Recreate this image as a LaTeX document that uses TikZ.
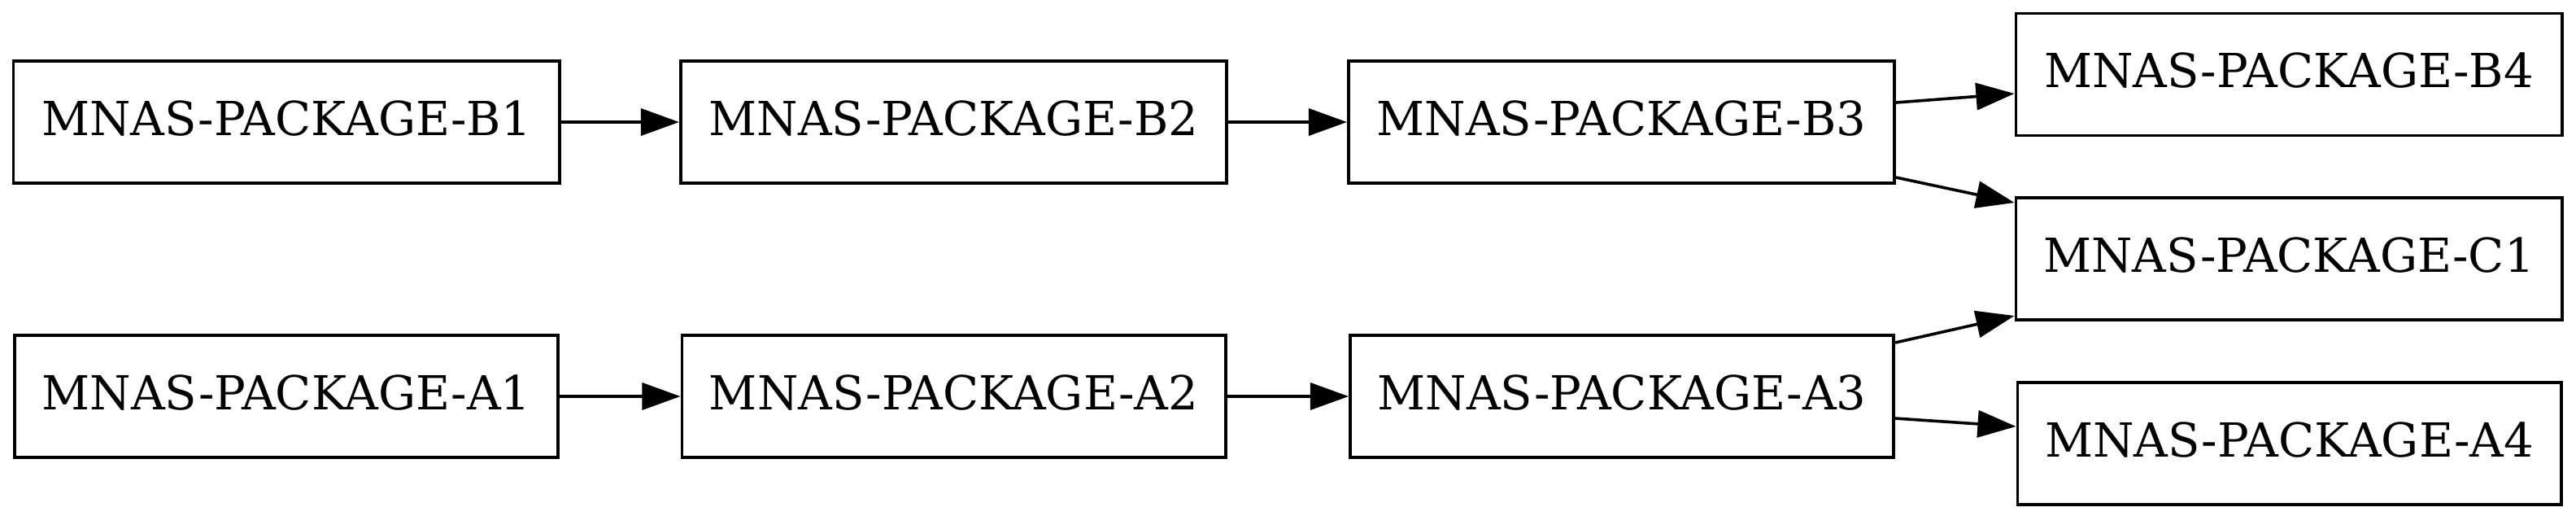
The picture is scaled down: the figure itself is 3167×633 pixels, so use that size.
\documentclass[tikz,border=0pt]{standalone}
\usepackage{fontspec}
\setmainfont{DejaVu Serif}
\usetikzlibrary{arrows.meta,calc}
\begin{document}
\begin{tikzpicture}[x=0.01cm,y=-0.01cm,
  pkg/.style={draw=black,line width=0.036cm,rectangle,inner sep=0pt,
    minimum height=1.5cm,font=\fontsize{16.4pt}{19pt}\selectfont,text depth=0.1cm},
  wideB/.style={pkg,minimum width=6.71cm},
  wideA/.style={pkg,minimum width=6.68cm},
  dep/.style={line width=0.036cm,-{Triangle[length=13.4pt,width=9.4pt]}}]
\useasboundingbox (0,0) rectangle (3167,633);
\node[wideB] (B1) at (352,150) {MNAS-PACKAGE-B1};
\node[wideB] (B2) at (1172.5,150) {MNAS-PACKAGE-B2};
\node[wideB] (B3) at (1993.5,150) {MNAS-PACKAGE-B3};
\node[wideB] (B4) at (2814,91.5) {MNAS-PACKAGE-B4};
\node[wideB] (C1) at (2814,318) {MNAS-PACKAGE-C1};
\node[wideA] (A1) at (352,487) {MNAS-PACKAGE-A1};
\node[wideA] (A2) at (1172.5,487) {MNAS-PACKAGE-A2};
\node[wideA] (A3) at (1994,487) {MNAS-PACKAGE-A3};
\node[wideA] (A4) at (2814.5,545) {MNAS-PACKAGE-A4};
\draw[dep] (B1) -- (B2);
\draw[dep] (B2) -- (B3);
\draw[dep] (A1) -- (A2);
\draw[dep] (A2) -- (A3);
\draw[dep] ($(B3.east)+(0,-24)$) -- ($(B4.west)+(0,23.5)$);
\draw[dep] ($(B3.east)+(0,68)$) -- ($(C1.west)+(0,-69)$);
\draw[dep] ($(A3.east)+(0,-66)$) -- ($(C1.west)+(0,70)$);
\draw[dep] ($(A3.east)+(0,27)$) -- ($(A4.west)+(0,-21)$);
\end{tikzpicture}
\end{document}
